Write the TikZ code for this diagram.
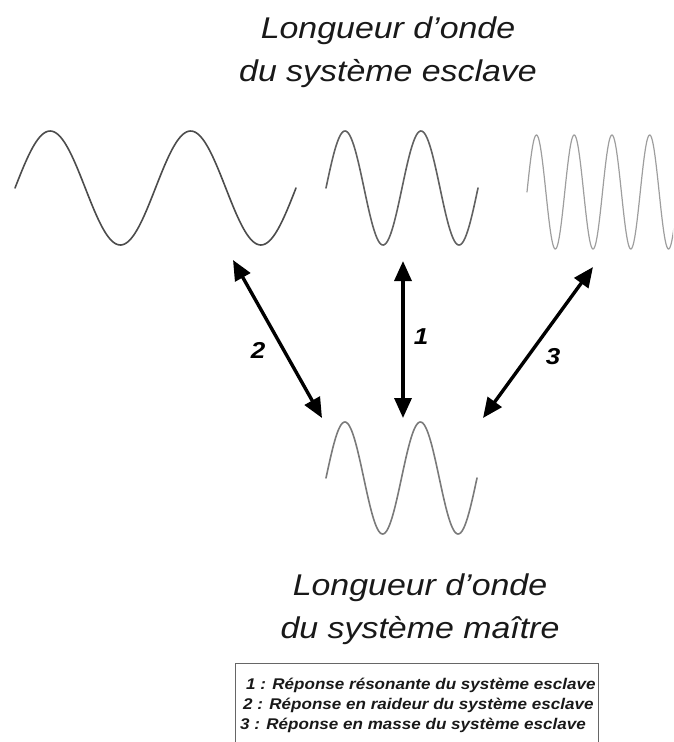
\documentclass[tikz,border=0pt]{standalone}
\usepackage{fontspec}
\setmainfont{Liberation Sans}
\newfontfamily\titlefont{Liberation Sans}[FakeStretch=1.13]
\newfontfamily\legendfont{Liberation Sans}[FakeStretch=1.1]
\usetikzlibrary{
    arrows.meta,
    positioning,
}

\tikzset{
    onde/.style={line width=1.6pt, line cap=round},
    fleche/.style={line width=3.4pt,
        {Triangle[length=20pt,width=17pt]}-{Triangle[length=20pt,width=17pt]}},
    titre/.style={font=\titlefont\itshape\fontsize{30}{43}\selectfont,
        text=black!90, align=center},
    chiffre/.style={font=\titlefont\bfseries\itshape\fontsize{23}{23}\selectfont},
    legende/.style={font=\legendfont\bfseries\itshape\fontsize{15.5}{20}\selectfont,
        text=black!90, anchor=base west, inner sep=0pt},
}

\begin{document}
\begin{tikzpicture}[x=1pt, y=-1pt]
    \clip (0,0) rectangle (673,742);

    % titres
    \node[titre] (esclave) at (388,52) {Longueur d’onde\\du système esclave};
    \node[titre] (maitre) at (420,609) {Longueur d’onde\\du système maître};

    % ondes
    \draw[onde, black!70] plot[domain=0:720, samples=160]
        ({15+\x/720*281}, {188-57*sin(\x)});
    \draw[onde, black!62] plot[domain=0:720, samples=160]
        ({326+\x/720*152}, {188-57*sin(\x)});
    \draw[onde, black!38, line width=1.2pt] plot[domain=0:1440, samples=300]
        ({527+\x/1440*151}, {192-57*sin(\x)});
    \draw[onde, black!52] plot[domain=0:720, samples=160]
        ({326+\x/720*151}, {478-56*sin(\x)});

    % fleches
    \coordinate (h2) at (233,260);
    \coordinate (b2) at (322,418);
    \coordinate (h1) at (403,261);
    \coordinate (b1) at (403,418);
    \coordinate (h3) at (593,267);
    \coordinate (b3) at (483,418);
    \draw[fleche] (h2) -- (b2);
    \draw[fleche] (h1) -- (b1);
    \draw[fleche] (h3) -- (b3);
    \node[chiffre] (n2) at (258,350) {2};
    \node[chiffre] (n1) at (421,337) {1};
    \node[chiffre] (n3) at (553,357) {3};

    % legende
    \draw[black!60, line width=1pt] (235,663) rectangle (598,780);
    \node[legende] (l1) at (246,689) {1 : Réponse résonante du système esclave};
    \node[legende] (l2) at (243,709) {2 : Réponse en raideur du système esclave};
    \node[legende] (l3) at (240,729) {3 : Réponse en masse du système esclave};
\end{tikzpicture}
\end{document}
